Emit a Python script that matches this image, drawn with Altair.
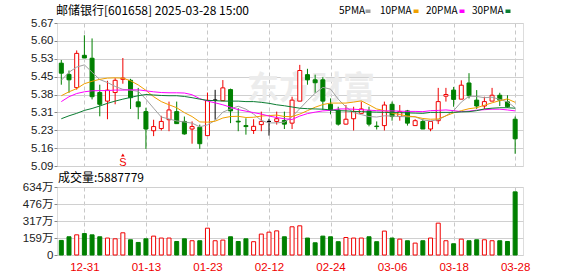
import altair as alt
import pandas as pd

# ---------------- data ----------------
dates = ["12-26", "12-27", "12-30", "12-31",
         "01-02", "01-03", "01-06", "01-07", "01-08", "01-09", "01-10", "01-13", "01-14", "01-15",
         "01-16", "01-17", "01-20", "01-21", "01-22", "01-23", "01-24", "01-27",
         "02-05", "02-06", "02-07", "02-10", "02-11", "02-12", "02-13", "02-14", "02-17", "02-18",
         "02-19", "02-20", "02-21", "02-24", "02-25", "02-26", "02-27", "02-28",
         "03-03", "03-04", "03-05", "03-06", "03-07", "03-10", "03-11", "03-12", "03-13", "03-14",
         "03-17", "03-18", "03-19", "03-20", "03-21", "03-24", "03-25", "03-26", "03-27", "03-28"]

opens = [5.508, 5.462, 5.408, 5.540, 5.528, 5.388, 5.353, 5.388, 5.442, 5.438,
         5.350, 5.310, 5.232, 5.241, 5.277, 5.310, 5.270, 5.239, 5.246, 5.212,
         5.357, 5.355, 5.400, 5.271, 5.253, 5.233, 5.257, 5.270, 5.270, 5.274,
         5.263, 5.353, 5.461, 5.440, 5.440, 5.340, 5.317, 5.259, 5.281, 5.303,
         5.313, 5.251, 5.253, 5.340, 5.290, 5.313, 5.253, 5.270, 5.239, 5.273,
         5.373, 5.398, 5.361, 5.427, 5.357, 5.333, 5.353, 5.377, 5.350, 5.279]
highs = [5.521, 5.478, 5.560, 5.622, 5.609, 5.420, 5.436, 5.447, 5.529, 5.444,
         5.407, 5.326, 5.277, 5.293, 5.351, 5.351, 5.290, 5.270, 5.257, 5.388,
         5.399, 5.439, 5.404, 5.324, 5.283, 5.279, 5.310, 5.281, 5.310, 5.310,
         5.371, 5.501, 5.485, 5.461, 5.451, 5.364, 5.330, 5.337, 5.330, 5.351,
         5.330, 5.270, 5.351, 5.351, 5.337, 5.317, 5.279, 5.279, 5.270, 5.407,
         5.407, 5.411, 5.438, 5.467, 5.398, 5.371, 5.407, 5.387, 5.377, 5.290]
lows = [5.420, 5.387, 5.400, 5.529, 5.360, 5.291, 5.279, 5.340, 5.424, 5.321,
        5.279, 5.158, 5.210, 5.233, 5.230, 5.261, 5.216, 5.179, 5.158, 5.212,
        5.277, 5.355, 5.263, 5.230, 5.216, 5.219, 5.230, 5.212, 5.257, 5.239,
        5.239, 5.353, 5.420, 5.387, 5.317, 5.299, 5.253, 5.257, 5.233, 5.303,
        5.250, 5.237, 5.233, 5.273, 5.273, 5.253, 5.253, 5.239, 5.230, 5.259,
        5.351, 5.330, 5.361, 5.364, 5.321, 5.321, 5.353, 5.333, 5.326, 5.138]
closes = [5.467, 5.440, 5.548, 5.529, 5.371, 5.340, 5.398, 5.438, 5.447, 5.367,
          5.330, 5.239, 5.249, 5.270, 5.317, 5.261, 5.219, 5.249, 5.179, 5.356,
          5.357, 5.407, 5.313, 5.268, 5.249, 5.250, 5.270, 5.270, 5.281, 5.259,
          5.357, 5.478, 5.440, 5.428, 5.353, 5.317, 5.259, 5.279, 5.310, 5.321,
          5.259, 5.249, 5.337, 5.290, 5.310, 5.263, 5.273, 5.239, 5.270, 5.351,
          5.380, 5.360, 5.418, 5.375, 5.333, 5.351, 5.377, 5.357, 5.330, 5.199]

# volume in 万
volumes = [136, 170, 188, 200, 188, 170, 158, 151, 207, 142,
           117, 151, 176, 158, 158, 126, 151, 133, 133, 250,
           133, 139, 170, 126, 151, 124, 195, 213, 225, 170,
           263, 272, 158, 114, 176, 170, 124, 163, 158, 158,
           170, 124, 223, 158, 148, 133, 111, 133, 158, 297,
           133, 105, 148, 133, 142, 142, 133, 133, 126, 588.8]

ma5 = [5.438, 5.471, 5.492, 5.501, 5.471, 5.441, 5.429, 5.413, 5.401, 5.398,
       5.393, 5.361, 5.324, 5.288, 5.280, 5.272, 5.268, 5.263, 5.248, 5.256,
       5.274, 5.308, 5.321, 5.332, 5.320, 5.300, 5.274, 5.264, 5.264, 5.267,
       5.289, 5.322, 5.355, 5.385, 5.409, 5.402, 5.361, 5.329, 5.306, 5.298,
       5.290, 5.288, 5.293, 5.292, 5.290, 5.289, 5.289, 5.276, 5.272, 5.277,
       5.293, 5.314, 5.349, 5.373, 5.372, 5.367, 5.369, 5.360, 5.350, 5.326]
ma10 = [5.375, 5.391, 5.404, 5.424, 5.434, 5.442, 5.447, 5.448, 5.447, 5.436,
        5.419, 5.397, 5.371, 5.351, 5.338, 5.326, 5.306, 5.290, 5.268, 5.267,
        5.271, 5.284, 5.290, 5.291, 5.286, 5.287, 5.292, 5.294, 5.296, 5.290,
        5.290, 5.300, 5.314, 5.328, 5.339, 5.345, 5.345, 5.345, 5.349, 5.354,
        5.338, 5.321, 5.314, 5.304, 5.298, 5.292, 5.289, 5.282, 5.279, 5.280,
        5.293, 5.305, 5.314, 5.322, 5.326, 5.336, 5.346, 5.355, 5.362, 5.348]
ma20 = [5.351, 5.371, 5.384, 5.391, 5.395, 5.396, 5.396, 5.398, 5.398, 5.399,
        5.399, 5.395, 5.391, 5.388, 5.387, 5.387, 5.386, 5.379, 5.363, 5.353,
        5.346, 5.338, 5.328, 5.318, 5.312, 5.306, 5.300, 5.292, 5.286, 5.281,
        5.278, 5.292, 5.302, 5.308, 5.313, 5.315, 5.321, 5.321, 5.320, 5.318,
        5.316, 5.314, 5.313, 5.313, 5.312, 5.311, 5.311, 5.310, 5.314, 5.315,
        5.317, 5.314, 5.310, 5.312, 5.316, 5.318, 5.320, 5.320, 5.317, 5.313]
ma30 = [5.281, 5.293, 5.303, 5.315, 5.323, 5.333, 5.344, 5.353, 5.361, 5.368,
        5.375, 5.380, 5.378, 5.376, 5.375, 5.375, 5.372, 5.367, 5.361, 5.356,
        5.355, 5.353, 5.353, 5.353, 5.351, 5.351, 5.348, 5.344, 5.338, 5.334,
        5.329, 5.324, 5.322, 5.321, 5.320, 5.317, 5.314, 5.313, 5.311, 5.310,
        5.309, 5.308, 5.307, 5.306, 5.306, 5.305, 5.304, 5.303, 5.307, 5.307,
        5.307, 5.307, 5.309, 5.310, 5.314, 5.321, 5.324, 5.326, 5.326, 5.324]

ma_names = ["5PMA", "10PMA", "20PMA", "30PMA"]
tick_dates = ["12-31", "01-13", "01-23", "02-12", "02-24", "03-06", "03-18", "03-28"]
price_ticks = [5.088, 5.161, 5.234, 5.307, 5.380, 5.453, 5.526, 5.599, 5.672]
vol_ticks = [0, 158.5, 317, 475.5, 634]
vol_tick_labels = ["0", "159万", "317万", "476万", "634万"]
title_text = "邮储银行[601658] 2025-03-28 15:00"
volume_text = "成交量:5887779"
signal_day = "01-08"
signal_text = "S"
watermark_text = "东方财富"

# ---------------- styles ----------------
RED = "#f00000"
GREEN = "#008000"
MA_COLORS = ["#a0a0a0", "#f0a000", "#ff00ff", "#0b7d32"]
LABEL_FONT = "Liberation Sans, Noto Sans CJK SC"
CJK_FONT = "Noto Sans CJK SC"
PW, PH, VH = 466, 143, 68

kind = ["up" if c > o else ("down" if c < o else "flat") for o, c in zip(opens, closes)]
df = pd.DataFrame({
    "i": list(range(len(dates))), "date": dates,
    "open": opens, "high": highs, "low": lows, "close": closes, "vol": volumes,
    "stroke": [RED if k == "up" else GREEN if k == "down" else "#000000" for k in kind],
    "fill": ["#ffffff" if k == "up" else GREEN if k == "down" else "#000000" for k in kind],
    "vstroke": [GREEN if k == "down" else RED for k in kind],
    "vfill": [GREEN if k == "down" else "#ffffff" for k in kind],
})
ma_df = pd.DataFrame([{"i": i, "name": nm, "v": v}
                      for nm, arr in zip(ma_names, [ma5, ma10, ma20, ma30])
                      for i, v in enumerate(arr)])

tick_pos = [dates.index(d) for d in tick_dates]
date_expr = " : ".join(f"datum.value == {p} ? '{d}'" for p, d in zip(tick_pos, tick_dates)) + " : ''"
vol_expr = " : ".join(f"datum.value == {v} ? '{l}'" for v, l in zip(vol_ticks, vol_tick_labels)) + " : ''"

xscale = alt.Scale(domain=[-0.56, 60.02], nice=False, zero=False, padding=0)
yscale = alt.Scale(domain=[price_ticks[0], price_ticks[-1]], nice=False, zero=False, padding=0)
vscale = alt.Scale(domain=[vol_ticks[0], vol_ticks[-1]], nice=False, padding=0)

price_xaxis = alt.Axis(values=tick_pos, labels=False, ticks=False, domain=False, grid=True,
                       gridDash=[4, 3], gridColor="#c8c8c8", minExtent=0, maxExtent=0, title=None)
price_yaxis = alt.Axis(values=price_ticks, format=".2f", grid=True, gridColor="#d0d0d0",
                       domain=False, tickColor="#888888", tickSize=3, labelPadding=1,
                       labelFont=LABEL_FONT, labelFontSize=11.5, labelColor="#222222", title=None)
vol_xaxis = alt.Axis(values=tick_pos, labelExpr=date_expr, labelColor=RED, labelFont=LABEL_FONT,
                     labelFontSize=11.5, labelPadding=6, ticks=False, domain=False, grid=True,
                     gridDash=[4, 3], gridColor="#c8c8c8", title=None)
vol_yaxis = alt.Axis(values=vol_ticks, labelExpr=vol_expr, grid=True, gridColor="#d0d0d0",
                     domain=False, tickColor="#888888", tickSize=3, labelPadding=1,
                     labelFont=LABEL_FONT, labelFontSize=11.5, labelColor="#222222", title=None)


def PX():
    return alt.X("i:Q", scale=xscale, axis=price_xaxis, title=None)


def PY(field):
    return alt.Y(field, scale=yscale, axis=price_yaxis, title=None)


one = pd.DataFrame({"k": [0]})

watermark = alt.Chart(pd.DataFrame({"t": [watermark_text]})).mark_text(
    font=CJK_FONT, fontSize=32, fontWeight="bold", color="#ececec"
).encode(x=alt.value(254), y=alt.value(66), text="t:N")

wicks = alt.Chart(df).mark_rule(strokeWidth=1).encode(
    x=PX(), y=PY("low:Q"), y2="high:Q", color=alt.Color("stroke:N", scale=None))
bodies = alt.Chart(df).mark_bar(size=4, strokeWidth=1).encode(
    x=PX(), y=PY("open:Q"), y2="close:Q",
    fill=alt.Fill("fill:N", scale=None), stroke=alt.Stroke("stroke:N", scale=None))
ma_lines = alt.Chart(ma_df).mark_line(strokeWidth=1).encode(
    x=PX(), y=PY("v:Q"),
    color=alt.Color("name:N", scale=alt.Scale(domain=ma_names, range=MA_COLORS), legend=None))

sig_df = pd.DataFrame({"i": [dates.index(signal_day)], "t": [signal_text]})
sig_tri = alt.Chart(sig_df).mark_point(shape="triangle-up", filled=True, size=14, color=RED, opacity=1).encode(
    x=PX(), y=alt.value(132))
sig_txt = alt.Chart(sig_df).mark_text(color=RED, fontSize=11, font="Liberation Sans", baseline="middle").encode(
    x=PX(), y=alt.value(139.5), text="t:N")

title = alt.Chart(pd.DataFrame({"t": [title_text]})).mark_text(
    align="left", baseline="middle", font=CJK_FONT, fontSize=12, color="#000000"
).encode(x=alt.value(-1), y=alt.value(-12), text="t:N")

legend_layers = []
text_x = [282, 323, 369, 415]
sq_x = [308.5, 356.5, 402.5, 448.5]
for nm, col, tx, sx in zip(ma_names, MA_COLORS, text_x, sq_x):
    legend_layers.append(alt.Chart(pd.DataFrame({"t": [nm]})).mark_text(
        align="left", baseline="middle", font=CJK_FONT, fontSize=10, color="#000000"
    ).encode(x=alt.value(tx), y=alt.value(-12), text="t:N"))
    legend_layers.append(alt.Chart(one).mark_rect(color=col).encode(
        x=alt.value(sx), x2=alt.value(sx + 5), y=alt.value(-13.5), y2=alt.value(-10)))

anchor = alt.Chart(one).mark_rule(opacity=0, strokeOpacity=0, strokeWidth=0).encode(
    x=alt.value(-56), x2=alt.value(-56), y=alt.value(-22), y2=alt.value(-22))

price = alt.layer(watermark, wicks, bodies, ma_lines, sig_tri, sig_txt, title, *legend_layers, anchor
                  ).properties(width=PW, height=PH)

vol_bars = alt.Chart(df).mark_bar(size=4, strokeWidth=1).encode(
    x=alt.X("i:Q", scale=xscale, axis=vol_xaxis, title=None),
    y=alt.Y("vol:Q", scale=vscale, axis=vol_yaxis, title=None),
    fill=alt.Fill("vfill:N", scale=None), stroke=alt.Stroke("vstroke:N", scale=None))
vol_label = alt.Chart(pd.DataFrame({"t": [volume_text]})).mark_text(
    align="left", baseline="middle", font=CJK_FONT, fontSize=12, color="#000000"
).encode(x=alt.value(1), y=alt.value(-8.7), text="t:N")

volume = alt.layer(vol_bars, vol_label).properties(width=PW, height=VH)

chart = alt.vconcat(price, volume, spacing=21, bounds="flush", padding=0).configure_view(
    stroke="#999999", strokeWidth=1
).configure(background="white")

chart.save("out.html", embed_options={"renderer": "svg", "actions": False})
